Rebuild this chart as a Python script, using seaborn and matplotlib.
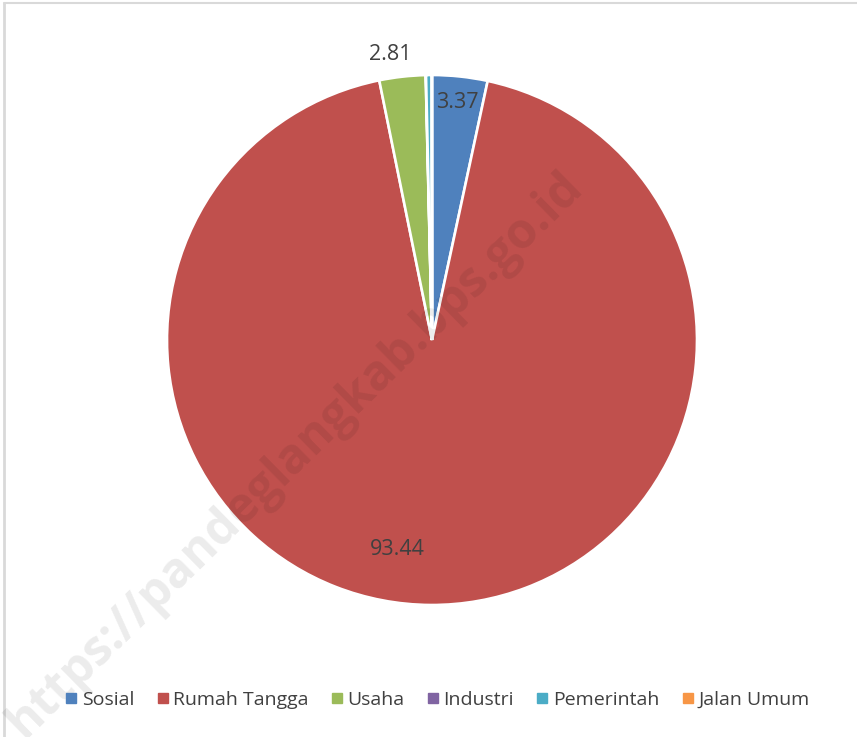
import numpy as np
import matplotlib
matplotlib.use("Agg")
import matplotlib.pyplot as plt
import seaborn as sns
from matplotlib.lines import Line2D

categories = ["Sosial", "Rumah Tangga", "Usaha", "Industri", "Pemerintah", "Jalan Umum"]
values = [3.37, 93.44, 2.81, 0.02, 0.35, 0.01]
shown_labels = ["3.37", "93.44", "2.81", "", "", ""]
colors = sns.color_palette(["#4F81BD", "#C0504D", "#9BBB59", "#8064A2", "#4BACC6", "#F79646"])

sns.set_theme(style="white")
plt.rcParams['font.family'] = ['Open Sans', 'DejaVu Sans']

W, H = 857, 737
fig = plt.figure(figsize=(W / 100, H / 100), dpi=100)
fig.patch.set_facecolor("white")

cx, cy, R = 432, 340, 265
ax = fig.add_axes([(cx - R) / W, (H - cy - R) / H, 2 * R / W, 2 * R / H])
wedges, _ = ax.pie(values, colors=colors, startangle=90, counterclock=False,
                   radius=1.0, wedgeprops=dict(edgecolor="white", linewidth=1.9))
ax.set_xlim(-1, 1)
ax.set_ylim(-1, 1)
ax.set_aspect("equal")
ax.axis("off")

# data labels placed relative to wedge mid-angles
label_place = {0: (0.0, 0.90), 1: (-9.0, 0.80), 2: (1.8, 1.09)}
for i, (w, lab) in enumerate(zip(wedges, shown_labels)):
    if not lab:
        continue
    dang, r = label_place[i]
    ang = np.deg2rad((w.theta1 + w.theta2) / 2 + dang)
    ax.text(r * np.cos(ang), r * np.sin(ang), lab, ha="center", va="center",
            fontsize=15.5, color="#404040", clip_on=False)

# legend
handles = [Line2D([0], [0], marker="s", linestyle="", markersize=7,
                  markerfacecolor=c, markeredgecolor=c) for c in colors]
fig.legend(handles, categories, loc="center", bbox_to_anchor=(436 / W, 1 - 700 / H),
           ncol=6, frameon=False, fontsize=14, handletextpad=0.1, columnspacing=1.0,
           labelcolor="#404040", handlelength=0.9)

# chart border (top and left visible)
fig.add_artist(Line2D([3.5 / W, 3.5 / W], [0, 1 - 3 / H], transform=fig.transFigure,
                      color="#D9D9D9", linewidth=2))
fig.add_artist(Line2D([3.5 / W, 1], [1 - 3 / H, 1 - 3 / H], transform=fig.transFigure,
                      color="#D9D9D9", linewidth=1.5))

# watermark
fig.text(295 / W, 1 - 455 / H, "https://pandeglangkab.bps.go.id", rotation=44.5,
         ha="center", va="center", fontsize=35, fontweight="bold", color="black",
         alpha=0.08, rotation_mode="anchor")

fig.savefig("out.png", dpi=100)
